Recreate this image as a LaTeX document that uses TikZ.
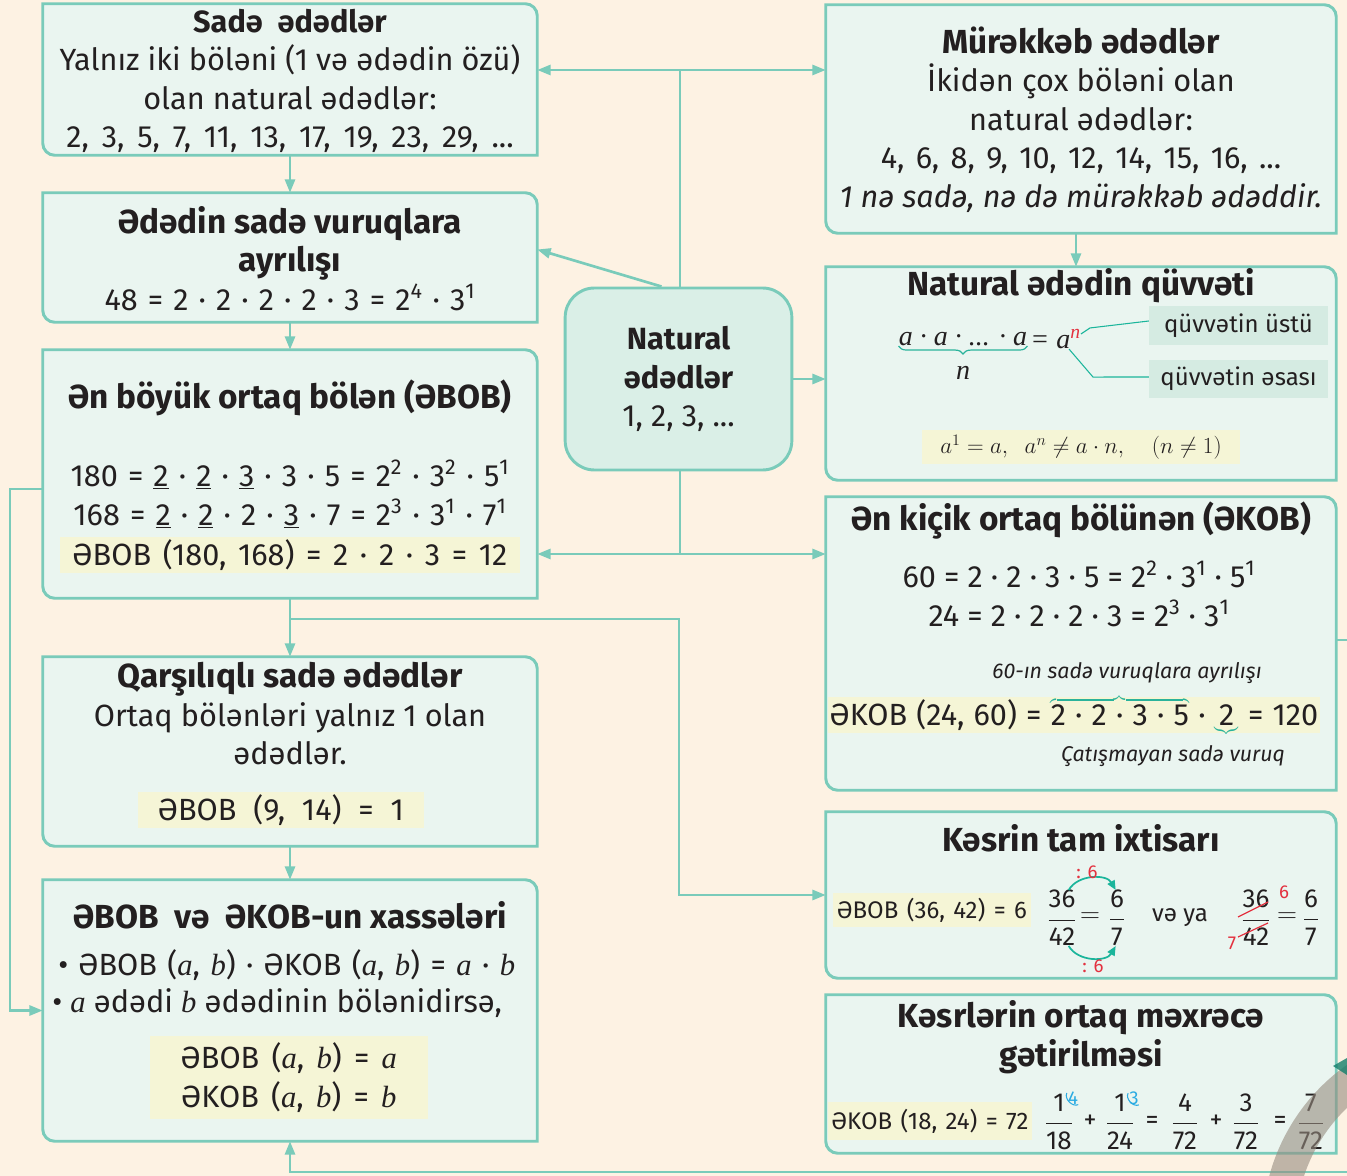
\documentclass[tikz,border=0pt]{standalone}
\usepackage{fontspec}
\setmainfont{Fira Sans}
\newfontfamily\serif{Liberation Serif}
\usepackage{tikz}
\usetikzlibrary{arrows.meta,calc,fit,positioning,decorations.pathreplacing}

\definecolor{cream}{HTML}{FDF2E3}
\definecolor{boxfill}{HTML}{EAF5F0}
\definecolor{edge}{HTML}{7ACBBA}
\definecolor{ctrfill}{HTML}{DAEFE7}
\definecolor{hili}{HTML}{F5F5D6}
\definecolor{labfill}{HTML}{D5EBE2}
\definecolor{ared}{HTML}{E3313F}
\definecolor{curv}{HTML}{1BB59B}
\definecolor{acyan}{HTML}{2AABE2}
\definecolor{ink}{HTML}{231F20}
\definecolor{brace}{HTML}{2AB39B}

\newcommand\bodyfs{\fontsize{23}{28.9}\selectfont}
\newcommand\titlefs{\fontsize{25}{28.9}\selectfont}
\newcommand\smallfs{\fontsize{18}{20}\selectfont}
\newcommand\labfs{\fontsize{18}{20}\selectfont}
\newcommand\fracfs{\fontsize{19.5}{20}\selectfont}
\newcommand\notefs{\fontsize{16}{18}\selectfont}
\newcommand\powfs{\fontsize{21}{24}\selectfont}
\newcommand\hpowfs{\fontsize{18}{20}\selectfont}
\newcommand\redfs{\fontsize{14}{15}\selectfont}

\newcommand\ita{{\serif\itshape a}}
\newcommand\itb{{\serif\itshape b}}
\newcommand\eqline[2][0.36]{{\spaceskip=#1em plus 0.1em\relax #2}}
\newcommand\fr[2]{$\displaystyle\frac{\hbox{#1}}{\hbox{#2}}$}
\newcommand\braceover[1]{$\smash{\color{brace}\overbrace{\hbox{\color{ink}#1}}}$}
\newcommand\braceunder[1]{$\smash{\color{brace}\underbrace{\hbox{\color{ink}#1}}}$}
% frame with two rounded and two square corners
\newcommand\leafframe[1]{%
  \filldraw[frame] (#1.west) -- (#1.north west) [rounded corners=9pt] -- (#1.north east)
    [sharp corners] -- (#1.south east) [rounded corners=9pt] -- (#1.south west)
    [sharp corners] -- cycle;}

\tikzset{
  leaf/.style={inner sep=0pt},
  frame/.style={draw=edge, fill=boxfill, line width=2.2pt},
  link/.style={draw=edge, line width=2pt},
  arr/.style={link, -{Triangle[length=10pt,width=7.5pt]}},
  thinlink/.style={draw=curv, line width=0.8pt},
  body/.style={font=\bodyfs, text=ink, align=center, inner sep=0pt},
  title/.style={font=\titlefs\bfseries, text=ink, inner sep=0pt},
  small/.style={font=\smallfs, text=ink, inner sep=0pt},
  frac/.style={font=\fracfs, text=ink, inner sep=0pt},
  note/.style={font=\notefs\itshape, text=ink, inner sep=0pt},
  hilite/.style={fill=hili, inner sep=0pt},
  serifit/.style={font=\powfs\serif\itshape, text=ink, inner sep=0pt},
  lab/.style={fill=labfill, font=\labfs, text=ink, minimum width=134pt, minimum height=29pt, inner sep=0pt},
  redlab/.style={font=\redfs, text=ared, inner sep=0pt},
  bluelab/.style={font=\redfs, text=acyan, inner sep=0pt},
  curvarr/.style={draw=curv, line width=1.3pt, -{Triangle[length=7pt,width=6pt]}},
  bracedeco/.style={draw=brace, line width=0.9pt, decorate, decoration={brace, amplitude=6pt}},
  ctrbox/.style={draw=edge, fill=ctrfill, line width=2.2pt, rounded corners=22pt,
    minimum width=170pt, minimum height=136.5pt, align=center, font=\bodyfs, text=ink, inner sep=0pt}
}

\begin{document}
\begin{tikzpicture}[x=0.75pt,y=0.75pt]
\fill[cream] (0,0) rectangle (1347,-1176);
\useasboundingbox (0,0) rectangle (1347,-1176);
\clip (0,0) rectangle (1347,-1176);

% boxes
\node[leaf, fit={(43,-4) (537,-155)}] (sade) {};
\node[leaf, fit={(43,-193) (537,-322)}] (vur) {};
\node[leaf, fit={(43,-350) (537,-598)}] (ebob) {};
\node[leaf, fit={(43,-657) (537,-846)}] (qar) {};
\node[leaf, fit={(43,-880) (537,-1141)}] (xas) {};
\node[leaf, fit={(826,-5) (1336,-233)}] (mur) {};
\node[leaf, fit={(826,-267) (1336,-480)}] (quv) {};
\node[leaf, fit={(826,-497) (1336,-790)}] (ekob) {};
\node[leaf, fit={(826,-812) (1336,-978)}] (kesr) {};
\node[leaf, fit={(826,-995) (1336,-1153)}] (ort) {};
\foreach \b in {sade,vur,ebob,qar,xas,mur,quv,ekob,kesr,ort}
  \leafframe{\b};

% connectors
\coordinate (jt) at (680,-70);
\coordinate (jb) at (680,-554);
\coordinate (jk) at (290,-619);
\coordinate (jk2) at (679,-619);
\coordinate (jl) at (10,-489);
\coordinate (jr) at (1360,-640);
\coordinate (jd) at (1360,-1172);
\coordinate (jd2) at (290,-1172);

\node[ctrbox] (ctr) at (678.5,-379) {\textbf{Natural}\\\textbf{ədədlər}\\1, 2, 3, ...};

\draw[link] (ctr.north -| jt) -- (jt);
\draw[arr] (jt) -- (jt -| sade.east);
\draw[arr] (jt) -- (jt -| mur.west);
\draw[arr] ($(ctr.north)+(-17,0)$) -- ($(vur.east)+(0,8)$);
\draw[arr] (ctr.east) -- (ctr.east -| quv.west);
\draw[link] (ctr.south -| jb) -- (jb);
\draw[arr] (jb) -- (jb -| ebob.east);
\draw[arr] (jb) -- (jb -| ekob.west);
\draw[arr] (sade.south) -- (vur.north);
\draw[arr] (vur.south) -- (ebob.north);
\draw[arr] (ebob.south) -- (qar.north);
\draw[arr] (jk) -- (jk2) |- (kesr.west);
\draw[arr] (qar.south) -- (xas.north);
\draw[arr] (jl -| ebob.west) -- (jl) |- (xas.west);
\draw[arr] ($(mur.south)+(-5,0)$) -- ($(quv.north)+(-5,0)$);
\draw[arr] (jr -| ekob.east) -- (jr) -- (jd) -- (jd2) -- (xas.south);

% left column
\node[body] (sade-txt) at (290,-81) {\textbf{Sadə\ \ ədədlər}\\Yalnız iki böləni (1 və ədədin özü)\\olan natural ədədlər:\\\eqline[0.42]{2, 3, 5, 7, 11, 13, 17, 19, 23, 29, ...}};
\node[body] (vur-txt) at (290,-258.5) {\textbf{\titlefs Ədədin sadə vuruqlara}\\\textbf{\titlefs ayrılışı}\\\eqline[0.33]{48 = 2 · 2 · 2 · 2 · 3 = 2\textsuperscript{4} · 3\textsuperscript{1}}};

\node[title] (ebob-t) at (290,-398) {Ən böyük ortaq bölən (ƏBOB)};
\node[body] (ebob-eq) at (290,-494) {\eqline[0.33]{180 = \underline{2} · \underline{2} · \underline{3} · 3 · 5 = 2\textsuperscript{2} · 3\textsuperscript{2} · 5\textsuperscript{1}}\\\eqline[0.33]{168 = \underline{2} · \underline{2} · 2 · \underline{3} · 7 = 2\textsuperscript{3} · 3\textsuperscript{1} · 7\textsuperscript{1}}};
\node[hilite, body, minimum width=345pt, minimum height=27pt] (ebob-h) at (290,-555) {\eqline[0.38]{ƏBOB (180, 168) = 2 · 2 · 3 = 12}};

\node[body] (qar-txt) at (290,-714) {\textbf{\titlefs Qarşılıqlı sadə ədədlər}\\Ortaq bölənləri yalnız 1 olan\\ədədlər.};
\node[hilite, body, minimum width=215pt, minimum height=27pt] (qar-h) at (281,-810) {\eqline[0.55]{ƏBOB (9, 14) = 1}};

\node[title] (xas-t) at (290,-915) {ƏBOB\ \ və\ \ ƏKOB-un xassələri};
\node[body, anchor=west] (xas-1) at (58,-965) {\eqline[0.34]{• ƏBOB (\ita, \itb) · ƏKOB (\ita, \itb) = \ita{} · \itb}};
\node[body, anchor=west] (xas-2) at (52,-1003) {• \ita{} ədədi \itb{} ədədinin bölənidirsə,};
\node[hilite, body, minimum width=208.5pt, minimum height=62pt] (xas-h) at (289,-1077.5) {\eqline[0.4]{ƏBOB (\ita, \itb) = \ita}\\\eqline[0.4]{ƏKOB (\ita, \itb) = \itb}};

% right column
\node[body] (mur-txt) at (1081,-119.5) {\textbf{\titlefs Mürəkkəb ədədlər}\\İkidən çox böləni olan\\natural ədədlər:\\\eqline[0.37]{4, 6, 8, 9, 10, 12, 14, 15, 16, ...}\\\textit{1 nə sadə, nə də mürəkkəb ədəddir.}};

\node[title] (quv-t) at (1081,-286) {Natural ədədin qüvvəti};
\node[serifit] (pw1) at (963,-339) {a · a · ... · a};
\node[serifit, anchor=west] (pw2) at ([xshift=2pt]pw1.east) {= a\textsuperscript{\textcolor{ared}{n}}};
\draw[bracedeco] (pw1.south east) -- (pw1.south west);
\node[serifit] (pwn) at ($(pw1.south)+(0,-27)$) {n};
\node[lab] (lu) at (1238.5,-325.5) {qüvvətin üstü};
\node[lab] (la) at (1238.5,-379) {qüvvətin əsası};
\coordinate (sup) at ($(pw2.north east)+(0,-5)$);
\coordinate (bas) at ($(pw2.south east)+(-12,0)$);
\draw[thinlink] (sup) -- ++(9,6) -- (lu.west |- 0,-321);
\draw[thinlink] (bas) -- ++(24,-28) -- (la.west |- 0,-377);
\node[hilite, font=\hpowfs, text=ink, minimum width=238pt, minimum height=26pt, inner sep=0pt] (quv-h) at (1081,-447)
  {$a^1 = a,\ \ a^n \neq a\cdot n,\quad (n\neq 1)$};

\node[title] (ekob-t) at (1081,-521) {Ən kiçik ortaq bölünən (ƏKOB)};
\node[body] (ekob-eq) at (1079,-594) {60 = 2 · 2 · 3 · 5 = 2\textsuperscript{2} · 3\textsuperscript{1} · 5\textsuperscript{1}\\24 = 2 · 2 · 2 · 3 = 2\textsuperscript{3} · 3\textsuperscript{1}};
\node[note] (ekob-n1) at (1127,-673) {60-ın sadə vuruqlara ayrılışı};
\node[hilite, body, minimum width=369pt, minimum height=27pt] (ekob-h) at (1074,-715)
  {\eqline[0.3]{ƏKOB (24, 60) = \braceover{2 · 2 · 3 · 5} · \braceunder{2} = 120}};
\node[note] (ekob-n2) at (1173,-756) {Çatışmayan sadə vuruq};

\node[title] (kesr-t) at (1081,-838) {Kəsrin tam ixtisarı};
\node[hilite, small, minimum width=148.5pt, minimum height=26pt] (kesr-h) at (932,-910) {\eqline[0.35]{ƏBOB (36, 42) = 6}};
\node[frac] (fa) at (1062,-918) {\fr{36}{42}};
\node[frac] (eqa) at (1090,-918) {$=$};
\node[frac] (fb) at (1117,-918) {\fr{6}{7}};
\draw[curvarr] ([xshift=5pt]fa.north) to[bend left=60] ([xshift=-1pt]fb.north);
\draw[curvarr] ([xshift=5pt]fa.south) to[bend right=60] ([xshift=-1pt]fb.south);
\node[redlab] (d1) at (1087,-872) {: 6};
\node[redlab] (d2) at (1093,-966) {: 6};
\node[small] (vy) at (1180,-918) {və ya};
\node[frac] (fc) at (1256,-918) {\fr{36}{42}};
\draw[ared, line width=0.9pt] ($(fc.center)+(-18,1)$) -- ($(fc.center)+(12,16)$);
\draw[ared, line width=0.9pt] ($(fc.center)+(-18,-19)$) -- ($(fc.center)+(12,-5)$);
\node[redlab] (r6) at (1284,-892) {6};
\node[redlab] (r7) at (1232,-943) {7};
\node[frac] (eqc) at (1287,-918) {$=$};
\node[frac] (fd) at (1311,-918) {\fr{6}{7}};

\node[body] (ort-t) at (1081,-1037) {\textbf{\titlefs Kəsrlərin ortaq məxrəcə}\\\textbf{\titlefs gətirilməsi}};
\node[hilite, small, minimum width=153pt, minimum height=28.5pt] (ort-h) at (930,-1121) {\eqline[0.35]{ƏKOB (18, 24) = 72}};
\node[frac] (q1) at (1059,-1122) {\fr{1}{18}};
\node[frac] (p1) at (1090,-1122) {+};
\node[frac] (q2) at (1120,-1122) {\fr{1}{24}};
\node[frac] (e1) at (1152,-1122) {=};
\node[frac] (q3) at (1185,-1122) {\fr{4}{72}};
\node[frac] (p2) at (1216,-1122) {+};
\node[frac] (q4) at (1246,-1122) {\fr{3}{72}};
\node[frac] (e2) at (1280,-1122) {=};
\node[frac] (q5) at (1311,-1122) {\fr{7}{72}};
\node[bluelab] (b4) at ($(q1.north)+(14,-4)$) {4};
\node[bluelab] (b3) at ($(q2.north)+(14,-4)$) {3};
\draw[acyan, line width=0.8pt] ($(b4.west)+(-1,5)$) to[bend right=70] (b4.south east);
\draw[acyan, line width=0.8pt] ($(b3.west)+(-1,5)$) to[bend right=70] (b3.south east);

% page ring in the corner
\draw[line width=25pt, color={rgb,255:red,150;green,140;blue,128}, opacity=0.6]
  (1279.7,-1212.1) arc[start angle=175, end angle=110, radius=183];
\fill[curv!70!black, opacity=0.8] (1333,-1066) -- (1347,-1058) -- (1347,-1075) -- cycle;
\end{tikzpicture}
\end{document}
